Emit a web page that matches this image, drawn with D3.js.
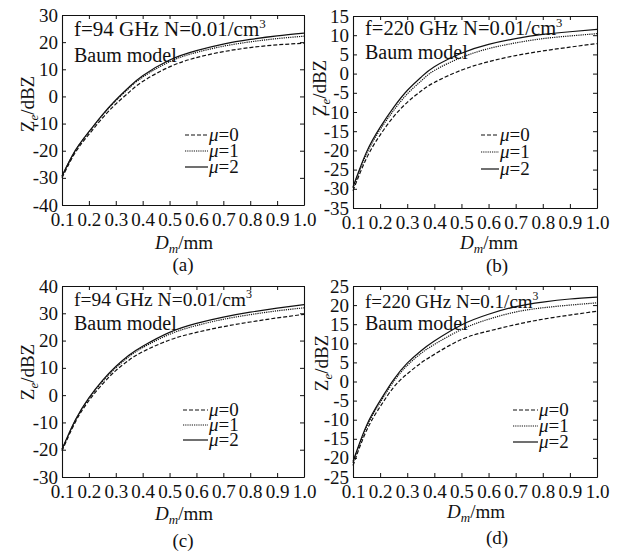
<!DOCTYPE html>
<html>
<head>
<meta charset="utf-8">
<script src="https://cdn.jsdelivr.net/npm/d3@7/dist/d3.min.js"></script>
<style>
  html, body { margin: 0; padding: 0; background: #fff; }
  svg { display: block; }
  text { font-family: "Liberation Serif", "Times New Roman", serif; fill: #111; }
</style>
</head>
<body>
<svg id="chart" width="622" height="553"></svg>
<script>
// Mean diameter D_m (mm) at which the effective reflectivity is tabulated
const dm = [0.1, 0.15, 0.2, 0.25, 0.3, 0.35, 0.4, 0.5, 0.6, 0.7, 0.8, 0.9, 1.0];
const xTicks = [0.1, 0.2, 0.3, 0.4, 0.5, 0.6, 0.7, 0.8, 0.9, 1.0];
const muLabels = ["0", "1", "2"];

// (a) f = 94 GHz, N = 0.01/cm^3
const zeA_mu0 = [-30.0, -20.6, -14.0, -8.0, -2.8, 1.6, 5.5, 10.9, 14.3, 16.5, 18.0, 19.0, 19.6];
const zeA_mu1 = [-29.5, -20.0, -13.2, -7.0, -1.6, 3.1, 7.1, 12.8, 16.2, 18.5, 20.1, 21.3, 22.2];
const zeA_mu2 = [-29.3, -19.8, -13.0, -6.8, -1.3, 3.5, 7.6, 13.4, 16.9, 19.3, 21.0, 22.3, 23.3];
const yTicksA = [-40, -30, -20, -10, 0, 10, 20, 30];

// (b) f = 220 GHz, N = 0.01/cm^3
const zeB_mu0 = [-30.5, -22.0, -16.0, -11.2, -7.5, -4.6, -2.3, 0.9, 3.1, 4.7, 5.9, 6.9, 7.8];
const zeB_mu1 = [-29.8, -20.9, -14.6, -9.6, -5.3, -2.0, 0.8, 4.2, 6.5, 8.0, 9.1, 9.8, 10.4];
const zeB_mu2 = [-29.5, -20.4, -14.0, -8.8, -4.4, -1.0, 1.8, 5.3, 7.6, 9.1, 10.2, 10.9, 11.5];
const yTicksB = [-35, -30, -25, -20, -15, -10, -5, 0, 5, 10, 15];

// (c) f = 94 GHz, N = 0.01/cm^3
const zeC_mu0 = [-20.5, -9.8, -2.0, 4.0, 9.0, 12.9, 15.9, 20.2, 23.0, 25.1, 26.8, 28.3, 29.6];
const zeC_mu1 = [-20.0, -9.3, -1.3, 4.9, 10.0, 14.2, 17.4, 22.3, 25.5, 27.8, 29.5, 30.9, 32.0];
const zeC_mu2 = [-19.8, -9.0, -1.0, 5.3, 10.5, 14.7, 17.9, 23.0, 26.3, 28.6, 30.4, 31.9, 33.2];
const yTicksC = [-30, -20, -10, 0, 10, 20, 30, 40];

// (d) f = 220 GHz, N = 0.1/cm^3
const zeD_mu0 = [-22.0, -12.8, -6.6, -1.5, 2.0, 4.8, 7.1, 11.0, 13.2, 14.9, 16.3, 17.4, 18.4];
const zeD_mu1 = [-21.3, -11.9, -5.5, 0.0, 4.2, 7.3, 9.7, 13.6, 16.3, 18.2, 19.3, 20.0, 20.6];
const zeD_mu2 = [-20.9, -11.5, -5.0, 0.5, 4.8, 8.0, 10.6, 14.8, 17.6, 19.6, 20.8, 21.6, 22.1];
const yTicksD = [-25, -20, -15, -10, -5, 0, 5, 10, 15, 20, 25];

const titles = ["f=94 GHz N=0.01/cm", "f=220 GHz N=0.01/cm", "f=94 GHz N=0.01/cm", "f=220 GHz N=0.1/cm"];
const captions = ["(a)", "(b)", "(c)", "(d)"];

// Layout of the four panels
const panels = [
  { series: [zeA_mu0, zeA_mu1, zeA_mu2], yTicks: yTicksA, title: titles[0], caption: captions[0],
    box: { l: 62, r: 304, t: 15, b: 205 }, titleSize: 21, titleY: 36, modelY: 62,
    legend: { x0: 185, x1: 208, ys: [135, 151, 167] },
    yLab: { x: 27, y: 104 }, xLab: { x: 184, y: 249 }, cap: { x: 183, y: 271 } },
  { series: [zeB_mu0, zeB_mu1, zeB_mu2], yTicks: yTicksB, title: titles[1], caption: captions[1],
    box: { l: 353, r: 597, t: 16, b: 208 }, titleSize: 20.5, titleY: 35, modelY: 59,
    legend: { x0: 481, x1: 499, ys: [135, 152, 169] },
    yLab: { x: 319, y: 88 }, xLab: { x: 489, y: 249 }, cap: { x: 497, y: 272 } },
  { series: [zeC_mu0, zeC_mu1, zeC_mu2], yTicks: yTicksC, title: titles[2], caption: captions[2],
    box: { l: 62, r: 304, t: 286, b: 477 }, titleSize: 19.5, titleY: 306, modelY: 330,
    legend: { x0: 183, x1: 208, ys: [410, 425, 440] },
    yLab: { x: 27, y: 372 }, xLab: { x: 184, y: 520 }, cap: { x: 183, y: 547 } },
  { series: [zeD_mu0, zeD_mu1, zeD_mu2], yTicks: yTicksD, title: titles[3], caption: captions[3],
    box: { l: 353, r: 597, t: 286, b: 477 }, titleSize: 19, titleY: 308, modelY: 330,
    legend: { x0: 513, x1: 538, ys: [410, 426, 442] },
    yLab: { x: 321, y: 363 }, xLab: { x: 476, y: 518 }, cap: { x: 497, y: 544 } }
];

// Line styles: μ=0 dashed, μ=1 dotted, μ=2 solid
const dashes = ["4,2", "1.2,1", null];
const ink = "#111";

const svg = d3.select("#chart");

panels.forEach(p => {
  const { l, r, t, b } = p.box;
  const yMin = d3.min(p.yTicks), yMax = d3.max(p.yTicks);
  const x = d3.scaleLinear().domain([0.1, 1.0]).range([l, r]);
  const y = d3.scaleLinear().domain([yMin, yMax]).range([b, t]);
  const g = svg.append("g");

  // Frame with inward ticks on all four sides
  const tickLen = 4;
  const styleAxis = sel => {
    sel.selectAll(".domain").attr("stroke", ink).attr("stroke-width", 1.1);
    sel.selectAll(".tick line").attr("stroke", ink).attr("stroke-width", 1);
  };
  g.append("g").attr("transform", `translate(0,${b})`)
    .call(d3.axisBottom(x).tickValues(xTicks).tickSize(-tickLen).tickSizeOuter(0).tickFormat(d3.format(".1f")))
    .call(styleAxis)
    .call(a => a.selectAll("text").attr("y", 8).attr("dy", "0.71em").attr("font-size", 19)
      .attr("font-family", "Liberation Serif").attr("fill", ink));
  g.append("g").attr("transform", `translate(0,${t})`)
    .call(d3.axisTop(x).tickValues(xTicks).tickSize(-tickLen).tickSizeOuter(0).tickFormat(""))
    .call(styleAxis);
  g.append("g").attr("transform", `translate(${l},0)`)
    .call(d3.axisLeft(y).tickValues(p.yTicks).tickSize(-tickLen).tickSizeOuter(0).tickFormat(d3.format("d")))
    .call(styleAxis)
    .call(a => a.selectAll("text").attr("x", -4).attr("font-size", 19)
      .attr("font-family", "Liberation Serif").attr("fill", ink)
      .text(d => d < 0 ? "-" + Math.abs(d) : d));
  g.append("g").attr("transform", `translate(${r},0)`)
    .call(d3.axisRight(y).tickValues(p.yTicks).tickSize(-tickLen).tickSizeOuter(0).tickFormat(""))
    .call(styleAxis);

  // Curves (smooth natural spline through the tabulated values)
  const line = d3.line()
    .x((d, i) => x(dm[i]))
    .y(d => y(d))
    .curve(d3.curveNatural);
  p.series.forEach((s, k) => {
    g.append("path").datum(s)
      .attr("d", line)
      .attr("fill", "none")
      .attr("stroke", ink)
      .attr("stroke-width", 1.2)
      .attr("stroke-dasharray", dashes[k]);
  });

  // Annotation
  const tt = g.append("text").attr("x", l + 12).attr("y", p.titleY).attr("font-size", p.titleSize);
  tt.append("tspan").text(p.title);
  tt.append("tspan").attr("font-size", p.titleSize * 0.62).attr("dy", -8).text("3");
  g.append("text").attr("x", l + 12).attr("y", p.modelY).attr("font-size", 20).text("Baum model");

  // Legend
  p.legend.ys.forEach((ly, k) => {
    g.append("line")
      .attr("x1", p.legend.x0).attr("x2", p.legend.x1)
      .attr("y1", ly).attr("y2", ly)
      .attr("stroke", ink).attr("stroke-width", 1.2)
      .attr("stroke-dasharray", dashes[k]);
    const lt = g.append("text").attr("x", p.legend.x1 + 1).attr("y", ly + 6).attr("font-size", 19);
    lt.append("tspan").attr("font-style", "italic").text("μ");
    lt.append("tspan").text("=" + muLabels[k]);
  });

  // Axis titles
  const yl = g.append("text")
    .attr("transform", `translate(${p.yLab.x},${p.yLab.y}) rotate(-90)`)
    .attr("text-anchor", "middle").attr("dy", "0.35em").attr("font-size", 19);
  yl.append("tspan").text("Z");
  yl.append("tspan").attr("font-style", "italic").attr("font-size", 13).attr("dy", 4).text("e");
  yl.append("tspan").attr("dy", -4).text("/dBZ");

  const xl = g.append("text").attr("x", p.xLab.x).attr("y", p.xLab.y)
    .attr("text-anchor", "middle").attr("font-size", 19);
  xl.append("tspan").attr("font-style", "italic").text("D");
  xl.append("tspan").attr("font-style", "italic").attr("font-size", 13).attr("dy", 4).text("m");
  xl.append("tspan").attr("dy", -4).text("/mm");

  g.append("text").attr("x", p.cap.x).attr("y", p.cap.y)
    .attr("text-anchor", "middle").attr("font-size", 19).text(p.caption);
});
</script>
</body>
</html>
